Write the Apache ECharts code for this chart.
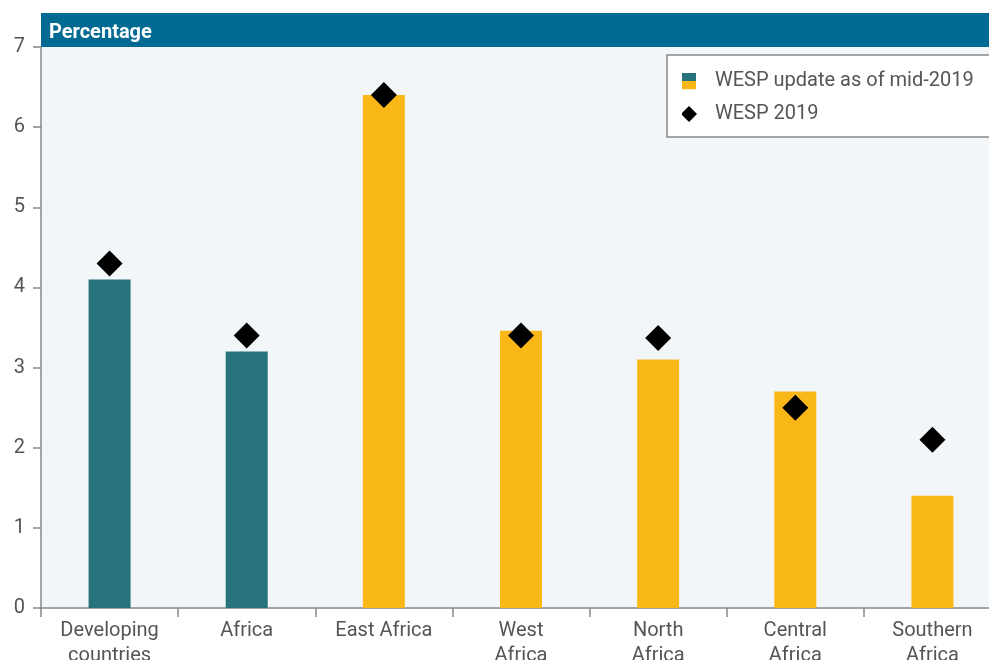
<!DOCTYPE html>
<html>
<head>
<meta charset="utf-8">
<script src="https://cdn.jsdelivr.net/npm/echarts@6/dist/echarts.min.js"></script>
<style>
  html, body { margin: 0; padding: 0; background: #ffffff; }
  #chart { width: 989px; height: 660px; }
</style>
</head>
<body>
<div id="chart"></div>
<script>
// ---- Data ----
const categories = ['Developing\ncountries', 'Africa', 'East Africa', 'West\nAfrica', 'North\nAfrica', 'Central\nAfrica', 'Southern\nAfrica'];
const groupType = ['aggregate', 'aggregate', 'subregion', 'subregion', 'subregion', 'subregion', 'subregion'];
const updateMid2019 = [4.1, 3.2, 6.4, 3.46, 3.1, 2.7, 1.4];
const wesp2019 = [4.3, 3.4, 6.4, 3.4, 3.37, 2.5, 2.1];
const yTicks = [0, 1, 2, 3, 4, 5, 6, 7];

const seriesNames = ['WESP update as of mid-2019', 'WESP 2019'];
const unitLabel = 'Percentage';

// ---- Styles ----
const TEAL = '#26737C';
const YELLOW = '#F9B818';
const BAND = '#006A92';
const FONT = 'Roboto, "Noto Sans", sans-serif';
const TXT = '#555555';

const barIconSvg = 'data:image/svg+xml;utf8,' + encodeURIComponent(
  '<svg xmlns="http://www.w3.org/2000/svg" width="28" height="17" viewBox="0 0 28 17">' +
  '<rect x="0" y="0" width="14" height="8.5" fill="' + TEAL + '"/>' +
  '<rect x="0" y="8.5" width="14" height="8.5" fill="' + YELLOW + '"/></svg>');
const diamondIconSvg = 'data:image/svg+xml;utf8,' + encodeURIComponent(
  '<svg xmlns="http://www.w3.org/2000/svg" width="28" height="17" viewBox="0 0 28 17">' +
  '<polygon points="7,0.5 15,8.5 7,16.5 -1,8.5" fill="#000"/></svg>');

const chart = echarts.init(document.getElementById('chart'), null, { renderer: 'canvas' });

chart.setOption({
  backgroundColor: '#ffffff',
  animation: false,
  textStyle: { fontFamily: FONT },
  grid: {
    left: 41, top: 47, right: -12, height: 561,
    containLabel: false,
    outerBoundsMode: 'none',
    show: true, backgroundColor: '#F2F6F8', borderWidth: 0
  },
  graphic: [
    {
      type: 'rect', left: 41, top: 13, z: 10,
      shape: { width: 960, height: 34 },
      style: { fill: BAND }
    },
    {
      type: 'text', left: 49, top: 23, z: 11,
      style: { text: unitLabel, fill: '#ffffff', font: 'bold 20px ' + FONT }
    }
  ],
  legend: {
    orient: 'vertical',
    left: 667, top: 55,
    padding: [14, 40, 11, 15],
    itemGap: 9,
    itemWidth: 28, itemHeight: 17,
    backgroundColor: '#ffffff',
    borderColor: '#888888', borderWidth: 1.5,
    textStyle: { fontSize: 20, color: TXT, lineHeight: 24, fontFamily: FONT },
    data: [
      { name: seriesNames[0], icon: 'image://' + barIconSvg },
      { name: seriesNames[1], icon: 'image://' + diamondIconSvg }
    ]
  },
  xAxis: {
    type: 'category',
    data: categories,
    boundaryGap: true,
    axisLine: { lineStyle: { color: '#888888', width: 1.5 } },
    axisTick: { show: true, length: 9, alignWithLabel: false, lineStyle: { color: '#888888', width: 1.5 } },
    axisLabel: { color: TXT, fontSize: 20, lineHeight: 25, margin: 10, interval: 0, fontFamily: FONT },
    splitLine: { show: false }
  },
  yAxis: {
    type: 'value',
    min: yTicks[0], max: yTicks[yTicks.length - 1], interval: 1,
    axisLine: { show: true, lineStyle: { color: '#888888', width: 1.5 } },
    axisTick: { show: true, length: 8, lineStyle: { color: '#888888', width: 1.5 } },
    axisLabel: { color: TXT, fontSize: 20, margin: 16, fontFamily: FONT },
    splitLine: { show: false }
  },
  series: [
    {
      name: seriesNames[0],
      type: 'bar',
      barWidth: 42,
      data: updateMid2019.map((v, i) => ({
        value: v,
        itemStyle: { color: groupType[i] === 'aggregate' ? TEAL : YELLOW }
      })),
      itemStyle: { color: TEAL },
      z: 2
    },
    {
      name: seriesNames[1],
      type: 'scatter',
      symbol: 'diamond',
      symbolSize: 26,
      data: wesp2019,
      itemStyle: { color: '#000000', opacity: 1 },
      z: 3
    }
  ]
});
</script>
</body>
</html>
